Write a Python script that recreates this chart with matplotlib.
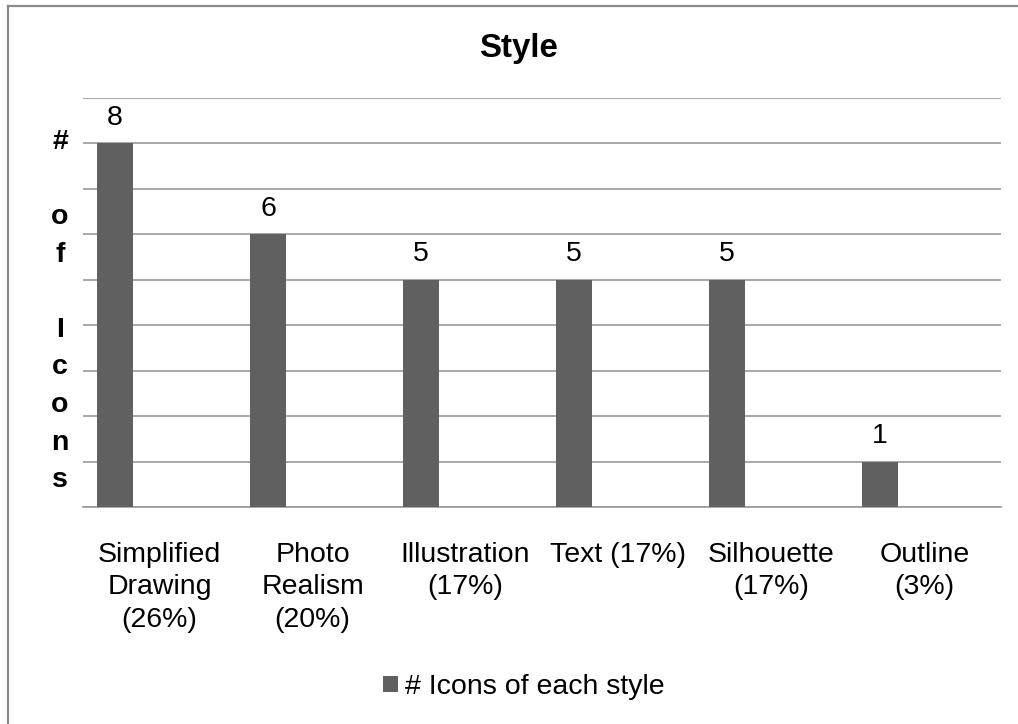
import matplotlib.pyplot as plt
import numpy as np
from matplotlib.lines import Line2D

plt.rcParams['font.family'] = ['Liberation Sans', 'DejaVu Sans']

# icon counts by drawing style
styles = ['Simplified\nDrawing\n(26%)', 'Photo\nRealism\n(20%)', 'Illustration\n(17%)',
          'Text (17%)', 'Silhouette\n(17%)', 'Outline\n(3%)']
icon_counts = [8, 6, 5, 5, 5, 1]
series_name = '# Icons of each style'

bar_color = '#606060'
grid_color = '#9a9a9a'

fig = plt.figure(figsize=(10.18, 7.24), dpi=100)
W, H = 1018, 724
ax = fig.add_axes([83 / W, 1 - 507 / H, (1001 - 83) / W, (507 - 98) / H])

x = np.arange(len(styles))
bars = ax.bar(x - 0.291, icon_counts, width=0.236, color=bar_color, label=series_name, zorder=3)
ax.bar_label(bars, padding=9, fontsize=20.5)

ax.set_xlim(-0.5, len(styles) - 0.5)
ax.set_ylim(0, 9)
ax.set_yticks(np.arange(0, 10, 1))
ax.yaxis.grid(True, color=grid_color, linewidth=1.2, zorder=0)
ax.tick_params(axis='y', length=0, labelleft=False)
ax.set_xticks(x, styles, fontsize=20.5, linespacing=1.32)
ax.tick_params(axis='x', length=0, pad=25)

for side in ['top', 'right', 'left']:
    ax.spines[side].set_visible(False)
ax.spines['bottom'].set_color(grid_color)
ax.spines['bottom'].set_linewidth(1.2)

# stacked axis title, one letter per line
fig.text(60 / W, 1 - 311 / H, '#\n\no\nf\n\nI\nc\no\nn\ns', ha='center', va='center',
         fontsize=20.5, fontweight='bold', linespacing=1.58)

fig.text(518.5 / W, 1 - 57 / H, 'Style', ha='center', va='baseline',
         fontsize=23.8, fontweight='bold')

fig.legend(loc='center', bbox_to_anchor=(523.5 / W, 1 - 687 / H), frameon=False,
           fontsize=20.5, handlelength=0.52, handleheight=0.52, handletextpad=0.25,
           borderpad=0)

# chart border (left and top edges)
fig.add_artist(Line2D([8 / W, 8 / W], [-0.05, 1 - 5.5 / H], color='#8a8a8a', linewidth=1.6))
fig.add_artist(Line2D([8 / W, 1.05], [1 - 5.5 / H, 1 - 5.5 / H], color='#8a8a8a', linewidth=1.6))

fig.savefig('out.png', dpi=100)
